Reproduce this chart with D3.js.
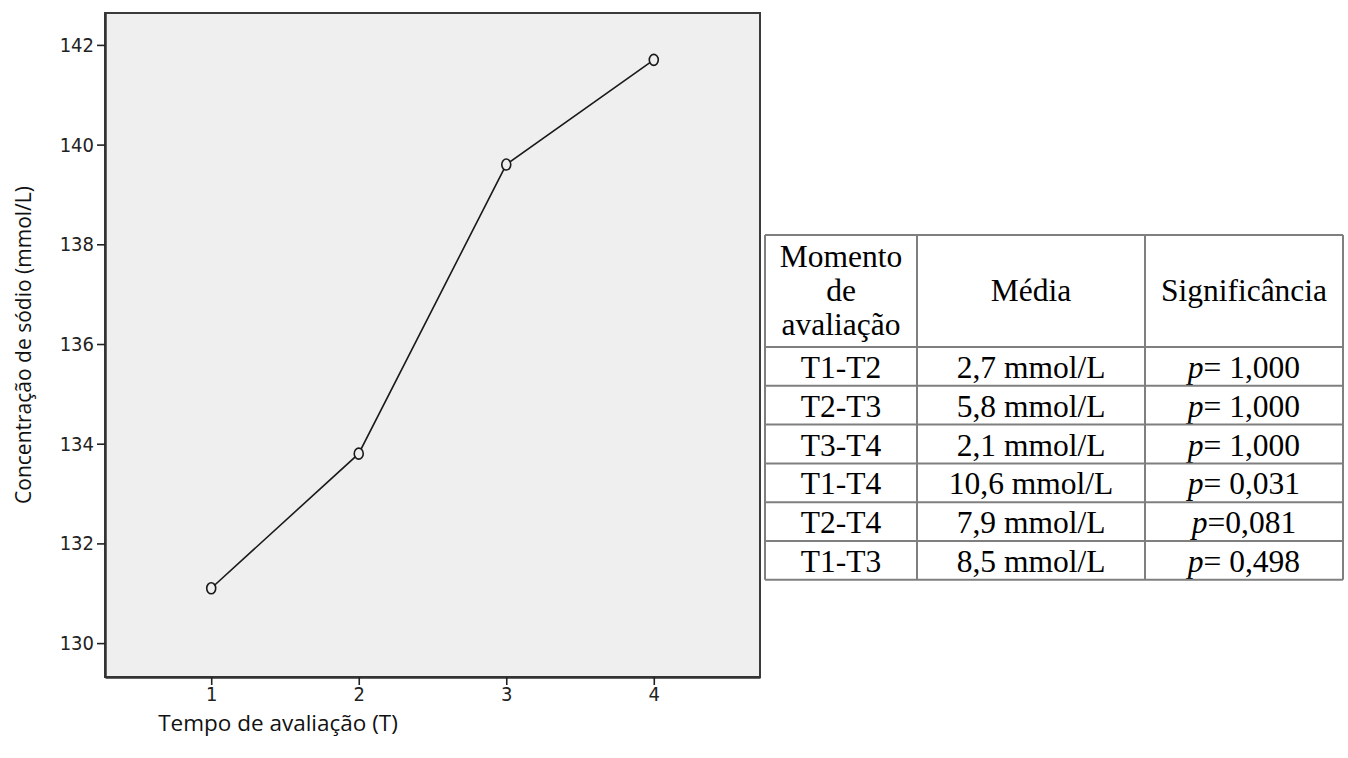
<!DOCTYPE html>
<html>
<head>
<meta charset="utf-8">
<script src="https://cdn.jsdelivr.net/npm/d3@7"></script>
<style>
  html, body { margin: 0; padding: 0; background: #ffffff; }
  svg { display: block; }
</style>
</head>
<body>
<svg id="chart" width="1348" height="758"></svg>
<script>
// Mean sodium concentration at each evaluation time
const times = [1, 2, 3, 4];
const sodium = [131.1, 133.8, 139.6, 141.7];
const yTicks = [130, 132, 134, 136, 138, 140, 142];

// Pairwise comparison table
const headers = [["Momento", "de", "avaliação"], ["Média"], ["Significância"]];
const pairs = ["T1-T2", "T2-T3", "T3-T4", "T1-T4", "T2-T4", "T1-T3"];
const meanDiffs = [2.7, 5.8, 2.1, 10.6, 7.9, 8.5];
const pValues = ["= 1,000", "= 1,000", "= 1,000", "= 0,031", "=0,081", "= 0,498"];

const svg = d3.select("#chart");

// ---------- line plot ----------
const plot = { left: 105, top: 13, right: 760, bottom: 677 };

const x = d3.scaleLinear().domain([0.28, 4.72]).range([plot.left, plot.right]);
const y = d3.scaleLinear().domain([129.32, 142.64]).range([plot.bottom, plot.top]);

svg.append("rect")
  .attr("x", plot.left).attr("y", plot.top)
  .attr("width", plot.right - plot.left).attr("height", plot.bottom - plot.top)
  .attr("fill", "#efefef")
  .attr("stroke", "#3a3a3a").attr("stroke-width", 2);

const yAxis = svg.append("g")
  .attr("transform", `translate(${plot.left},0)`)
  .call(d3.axisLeft(y).tickValues(yTicks).tickSizeInner(8).tickSizeOuter(0).tickPadding(3).tickFormat(d3.format("d")));
const xAxis = svg.append("g")
  .attr("transform", `translate(0,${plot.bottom})`)
  .call(d3.axisBottom(x).tickValues(times).tickSizeInner(8).tickSizeOuter(0).tickPadding(2).tickFormat(d3.format("d")));

[yAxis, xAxis].forEach(g => {
  g.attr("font-family", "'Liberation Sans Narrow', 'Arial Narrow', 'DejaVu Sans Condensed', sans-serif")
   .attr("font-size", 20);
  g.select(".domain").attr("stroke", "#333").attr("stroke-width", 2.5);
  g.selectAll(".tick line").attr("stroke", "#222").attr("stroke-width", 1.6);
  g.selectAll(".tick text")
    .attr("fill", "#222")
    .style("font-size", "20px")
    .style("font-stretch", "condensed");
});

const pts = times.map((t, i) => [t, sodium[i]]);
svg.append("path")
  .datum(pts)
  .attr("fill", "none")
  .attr("stroke", "#1a1a1a")
  .attr("stroke-width", 1.6)
  .attr("d", d3.line().x(d => x(d[0])).y(d => y(d[1])));

svg.selectAll("ellipse.pt")
  .data(pts)
  .join("ellipse")
  .attr("class", "pt")
  .attr("cx", d => x(d[0])).attr("cy", d => y(d[1]))
  .attr("rx", 4.5).attr("ry", 5.5)
  .attr("fill", "#efefef")
  .attr("stroke", "#1a1a1a").attr("stroke-width", 1.6);

// axis titles
svg.append("text")
  .attr("transform", `translate(31,${(plot.top + plot.bottom) / 2}) rotate(-90)`)
  .attr("text-anchor", "middle")
  .attr("font-family", "'Open Sans', sans-serif")
  .attr("font-size", 21)
  .attr("fill", "#111")
  .text("Concentração de sódio (mmol/L)");

svg.append("text")
  .attr("x", 278).attr("y", 731)
  .attr("text-anchor", "middle")
  .attr("font-family", "'Open Sans', sans-serif")
  .attr("font-size", 22.5)
  .attr("fill", "#111")
  .text("Tempo de avaliação (T)");

// ---------- comparison table ----------
const colEdges = [765, 917, 1145, 1343];
const headerTop = 235, headerBottom = 347, rowH = 38.8;
const rowTop = i => headerBottom + i * rowH;
const tableBottom = rowTop(pairs.length);
const colCenter = c => (colEdges[c] + colEdges[c + 1]) / 2;

const tbl = svg.append("g")
  .attr("font-family", "'Liberation Serif', 'Times New Roman', serif")
  .attr("font-size", 31.5)
  .attr("fill", "#000")
  .attr("text-anchor", "middle");

tbl.append("rect")
  .attr("x", colEdges[0]).attr("y", headerTop)
  .attr("width", colEdges[3] - colEdges[0]).attr("height", tableBottom - headerTop)
  .attr("fill", "#fff");

// header cells
const headerBase = [267, 301, 335];
headers.forEach((lines, c) => {
  const t = tbl.append("text").attr("x", colCenter(c));
  if (lines.length === 3) {
    lines.forEach((ln, k) => t.append("tspan").attr("x", colCenter(c)).attr("y", headerBase[k]).text(ln));
  } else {
    t.attr("y", headerBase[1]).text(lines[0]);
  }
});

// body rows
const fmt = v => d3.format(".1f")(v).replace(".", ",");
pairs.forEach((p, i) => {
  const base = rowTop(i) + 31;
  tbl.append("text").attr("x", colCenter(0)).attr("y", base).text(p);
  tbl.append("text").attr("x", colCenter(1)).attr("y", base).text(`${fmt(meanDiffs[i])} mmol/L`);
  const pt = tbl.append("text").attr("x", colCenter(2)).attr("y", base);
  pt.append("tspan").attr("font-style", "italic").text("p");
  pt.append("tspan").text(pValues[i]);
});

// grid lines
const gridColor = "#7f7f7f";
const hLines = [headerTop, headerBottom].concat(pairs.map((_, i) => rowTop(i + 1)));
tbl.selectAll("line.h")
  .data(hLines)
  .join("line")
  .attr("class", "h")
  .attr("x1", colEdges[0]).attr("x2", colEdges[3])
  .attr("y1", d => d).attr("y2", d => d)
  .attr("stroke", gridColor).attr("stroke-width", 2);
tbl.selectAll("line.v")
  .data(colEdges)
  .join("line")
  .attr("class", "v")
  .attr("x1", d => d).attr("x2", d => d)
  .attr("y1", headerTop).attr("y2", tableBottom)
  .attr("stroke", gridColor).attr("stroke-width", 2);
</script>
</body>
</html>
